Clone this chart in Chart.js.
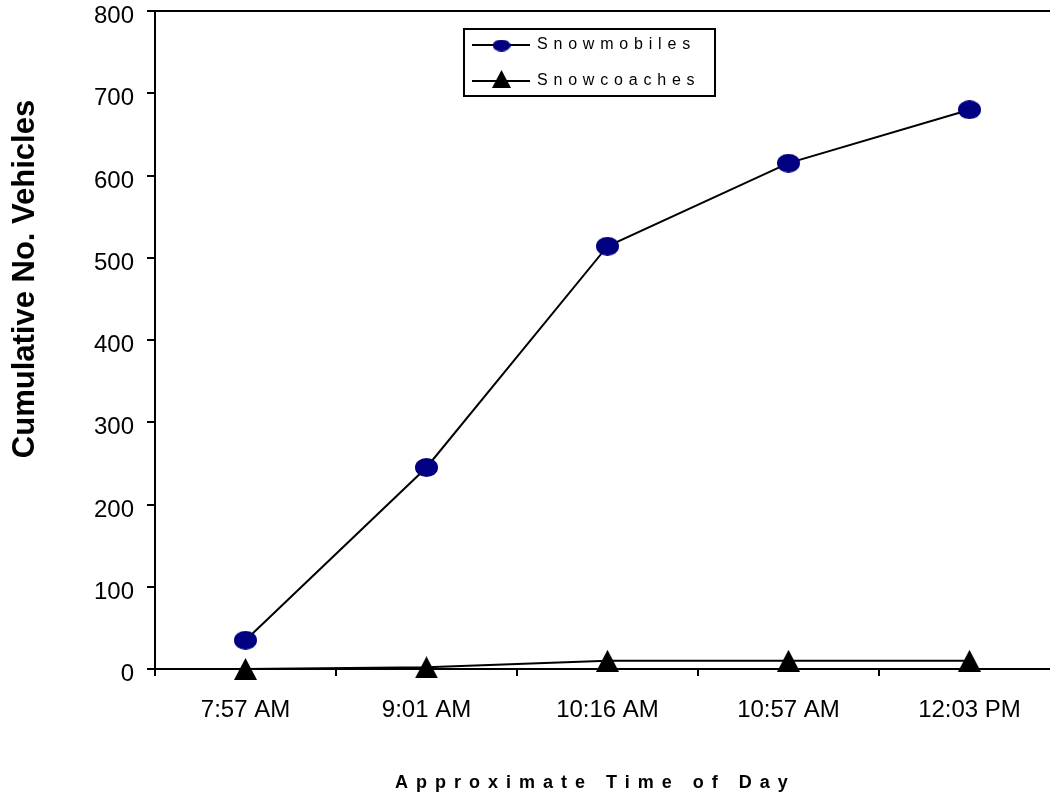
<!DOCTYPE html>
<html>
<head>
<meta charset="utf-8">
<title>Cumulative vehicles by time of day</title>
<script src="https://cdn.jsdelivr.net/npm/chart.js@4/dist/chart.umd.min.js"></script>
<style>
  html, body { margin: 0; padding: 0; background: #fff; overflow: hidden; }
  #wrap { width: 1062px; height: 799px; }
</style>
</head>
<body>
<div id="wrap"><canvas id="chart" width="1062" height="799"></canvas></div>
<script>
// ---- data ----
const timeLabels = ['7:57 AM', '9:01 AM', '10:16 AM', '10:57 AM', '12:03 PM'];
const snowmobiles = [35, 245, 514, 615, 680];
const snowcoaches = [0, 2, 10, 10, 10];
const seriesNames = ['Snowmobiles', 'Snowcoaches'];
const yMin = 0, yMax = 800, yStep = 100;
const xTitle = 'Approximate Time of Day';
const yTitle = 'Cumulative No. Vehicles';

const FONT = "'Liberation Sans', Arial, Helvetica, sans-serif";

// ---- marker images ----
function ellipseMarker(w, h, color) {
  const c = document.createElement('canvas');
  c.width = w; c.height = h;
  const g = c.getContext('2d');
  g.fillStyle = color;
  g.beginPath();
  g.ellipse(w / 2, h / 2, w / 2, h / 2, 0, 0, Math.PI * 2);
  g.fill();
  return c;
}
function triangleMarker(w, h, color) {
  const c = document.createElement('canvas');
  c.width = w; c.height = h;
  const g = c.getContext('2d');
  g.fillStyle = color;
  g.beginPath();
  g.moveTo(w / 2, 0);
  g.lineTo(w, h);
  g.lineTo(0, h);
  g.closePath();
  g.fill();
  return c;
}
const NAVY = '#000080';
const circleBig = ellipseMarker(23, 19, NAVY);
const triBig = triangleMarker(23, 22, '#000');
const circleSmall = ellipseMarker(18, 12, NAVY);
const triSmall = triangleMarker(19, 18, '#000');

// ---- frame around plot area ----
const framePlugin = {
  id: 'frame',
  beforeDatasetsDraw(chart) {
    const { ctx, chartArea: a } = chart;
    ctx.save();
    ctx.strokeStyle = '#000';
    ctx.lineWidth = 2;
    ctx.strokeRect(a.left, a.top, a.right - a.left, a.bottom - a.top);
    ctx.restore();
  }
};

// ---- axis titles and legend box ----
const decorPlugin = {
  id: 'decor',
  afterDraw(chart) {
    const { ctx } = chart;
    ctx.save();
    ctx.fillStyle = '#000';

    // y-axis title
    ctx.save();
    ctx.translate(34, 279);
    ctx.rotate(-Math.PI / 2);
    ctx.font = 'bold 31px ' + FONT;
    ctx.textAlign = 'center';
    ctx.textBaseline = 'alphabetic';
    ctx.fillText(yTitle, 0, 0);
    ctx.restore();

    // x-axis title (letter-spaced)
    ctx.save();
    ctx.font = 'bold 18px ' + FONT;
    ctx.letterSpacing = '8px';
    ctx.textAlign = 'left';
    ctx.textBaseline = 'alphabetic';
    ctx.fillText(xTitle, 395, 788);
    ctx.restore();

    // legend
    ctx.save();
    ctx.fillStyle = '#fff';
    ctx.fillRect(464, 29, 251, 67);
    ctx.strokeStyle = '#000';
    ctx.lineWidth = 2;
    ctx.strokeRect(464, 29, 251, 67);
    const rows = [
      { name: seriesNames[0], lineY: 45, img: circleSmall, my: 45.5, base: 48.5 },
      { name: seriesNames[1], lineY: 81, img: triSmall, my: 79, base: 85 }
    ];
    ctx.font = '16px ' + FONT;
    ctx.letterSpacing = '5.8px';
    ctx.textBaseline = 'alphabetic';
    ctx.textAlign = 'left';
    rows.forEach(r => {
      ctx.strokeStyle = '#000';
      ctx.lineWidth = 2;
      ctx.beginPath();
      ctx.moveTo(472, r.lineY);
      ctx.lineTo(530, r.lineY);
      ctx.stroke();
      ctx.drawImage(r.img, 501.5 - r.img.width / 2, r.my - r.img.height / 2);
      ctx.fillStyle = '#000';
      ctx.fillText(r.name, 537, r.base);
    });
    ctx.restore();

    ctx.restore();
  }
};

new Chart(document.getElementById('chart'), {
  type: 'line',
  data: {
    labels: timeLabels,
    datasets: [
      {
        label: seriesNames[0],
        data: snowmobiles,
        borderColor: '#000',
        borderWidth: 2,
        pointStyle: circleBig,
        pointRadius: 11,
        pointHoverRadius: 11,
        tension: 0,
        fill: false,
        clip: false
      },
      {
        label: seriesNames[1],
        data: snowcoaches,
        borderColor: '#000',
        borderWidth: 2,
        pointStyle: triBig,
        pointRadius: 11,
        pointHoverRadius: 11,
        tension: 0,
        fill: false,
        clip: false
      }
    ]
  },
  options: {
    responsive: false,
    animation: false,
    devicePixelRatio: 1,
    // the plot area runs slightly past the right edge of the page
    layout: { autoPadding: false, padding: { top: 11, right: 2, bottom: 0, left: 0 } },
    plugins: {
      legend: { display: false },
      tooltip: { enabled: false },
      title: { display: false }
    },
    scales: {
      x: {
        offset: true,
        grid: {
          offset: true,
          drawOnChartArea: false,
          drawTicks: true,
          tickLength: 7,
          color: '#000',
          lineWidth: 2
        },
        border: { color: '#000', width: 2 },
        ticks: {
          color: '#000',
          font: { family: FONT, size: 24 },
          padding: 20,
          maxRotation: 0,
          autoSkip: false
        },
        afterFit(scale) {
          scale.height = 130;
          scale.paddingLeft = 0;
          scale.paddingRight = 0;
        }
      },
      y: {
        min: yMin,
        max: yMax,
        grid: {
          drawOnChartArea: false,
          drawTicks: true,
          tickLength: 8,
          color: '#000',
          lineWidth: 2
        },
        border: { color: '#000', width: 2 },
        ticks: {
          stepSize: yStep,
          color: '#000',
          font: { family: FONT, size: 24 },
          padding: 13,
          labelOffset: 5.5
        },
        afterFit(scale) {
          scale.width = 155;
          scale.paddingTop = 0;
          scale.paddingBottom = 0;
        }
      }
    }
  },
  plugins: [framePlugin, decorPlugin]
});
</script>
</body>
</html>
